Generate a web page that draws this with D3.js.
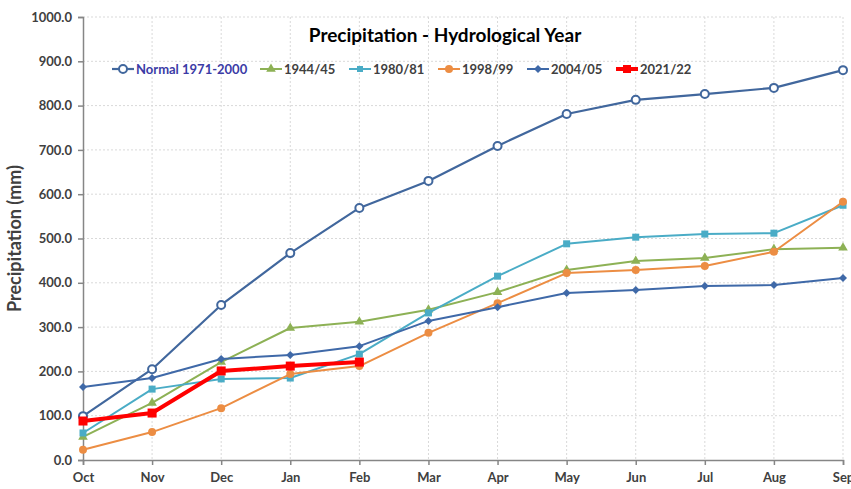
<!DOCTYPE html>
<html>
<head>
<meta charset="utf-8">
<script src="https://cdn.jsdelivr.net/npm/d3@7"></script>
<style>
  body { margin: 0; background: #fff; }
  text { font-family: Lato, "Open Sans", sans-serif; }
</style>
</head>
<body>
<div id="canvas"></div>
<script>
"use strict"

/* Data */
let months = ["Oct", "Nov", "Dec", "Jan", "Feb", "Mar", "Apr", "May", "Jun", "Jul", "Aug", "Sep"];
let yTicks = [0, 100, 200, 300, 400, 500, 600, 700, 800, 900, 1000];

let normal = [99, 205, 350, 467, 569, 630, 709, 781, 813, 826, 840, 880];
let y1944 = [52, 129, 221, 298, 312, 339, 379, 429, 449, 456, 476, 479];
let y1980 = [61, 160, 183, 185, 239, 332, 415, 488, 503, 510, 512, 575];
let y1998 = [23, 63, 117, 194, 212, 287, 354, 422, 429, 438, 470, 583];
let y2004 = [165, 185, 228, 237, 257, 314, 345, 377, 384, 393, 395, 411];
let y2021 = [88, 106, 201, 212, 221];

let seriesNames = ["Normal 1971-2000", "1944/45", "1980/81", "1998/99", "2004/05", "2021/22"];

let series = [
    { name: seriesNames[0], values: normal, color: "#41679d", marker: "openCircle", width: 2.2, textColor: "#3b3ba6" },
    { name: seriesNames[1], values: y1944, color: "#8db155", marker: "triangle", width: 2, textColor: "#404040" },
    { name: seriesNames[2], values: y1980, color: "#4aacc6", marker: "square", width: 2, textColor: "#404040" },
    { name: seriesNames[3], values: y1998, color: "#ec8d43", marker: "circle", width: 2, textColor: "#404040" },
    { name: seriesNames[4], values: y2004, color: "#3f69a8", marker: "diamond", width: 2, textColor: "#404040" },
    { name: seriesNames[5], values: y2021, color: "#ff0000", marker: "square", width: 4, textColor: "#404040" }
];

/* Drawing config */
let svgWidth = 851;
let svgHeight = 489;
let plotLeft = 83, plotRight = 843, plotTop = 17, plotBottom = 460;

let svg = d3.select("#canvas")
    .append("svg")
    .attr("width", svgWidth)
    .attr("height", svgHeight);

let x = d3.scalePoint()
    .domain(months)
    .range([plotLeft, plotRight]);

let y = d3.scaleLinear()
    .domain([0, 1000])
    .range([plotBottom, plotTop]);

/* gridlines */
svg.append("g")
    .selectAll("line")
    .data(yTicks.slice(1))
    .join("line")
    .attr("x1", plotLeft)
    .attr("x2", plotRight)
    .attr("y1", d => y(d))
    .attr("y2", d => y(d))
    .attr("stroke", "#d9d9d9")
    .attr("stroke-dasharray", "2,2");

svg.append("g")
    .selectAll("line")
    .data(months.slice(1))
    .join("line")
    .attr("x1", d => x(d))
    .attr("x2", d => x(d))
    .attr("y1", plotTop)
    .attr("y2", plotBottom)
    .attr("stroke", "#d9d9d9")
    .attr("stroke-dasharray", "2,2");

/* axes */
let yAxis = svg.append("g")
    .attr("transform", `translate(${plotLeft},0)`)
    .call(d3.axisLeft(y).tickValues(yTicks).tickFormat(d3.format(".1f")).tickSize(5).tickPadding(6));

let xAxis = svg.append("g")
    .attr("transform", `translate(0,${plotBottom})`)
    .call(d3.axisBottom(x).tickSize(5).tickPadding(8));

[yAxis, xAxis].forEach(function (a) {
    a.select(".domain").attr("stroke", "#868686").attr("stroke-width", 1.5);
    a.selectAll(".tick line").attr("stroke", "#868686").attr("stroke-width", 1.5);
    a.selectAll("text")
        .attr("fill", "#404040")
        .style("font-size", "13px")
        .style("font-weight", "bold")
        .style("font-family", "Lato, sans-serif");
});

/* lines */
let line = d3.line()
    .x((d, i) => x(months[i]))
    .y(d => y(d));

function drawMarker(g, type, color, size) {
    if (type === "openCircle") {
        g.append("circle").attr("r", 4).attr("fill", "#fff").attr("stroke", color).attr("stroke-width", 2);
    } else if (type === "circle") {
        g.append("circle").attr("r", 4).attr("fill", color);
    } else if (type === "square") {
        g.append("rect").attr("x", -size).attr("y", -size).attr("width", size * 2).attr("height", size * 2).attr("fill", color);
    } else if (type === "triangle") {
        g.append("path").attr("d", d3.symbol(d3.symbolTriangle, 40)()).attr("fill", color);
    } else if (type === "diamond") {
        g.append("path").attr("d", "M0,-4L4,0L0,4L-4,0Z").attr("fill", color);
    }
}

series.forEach(function (s) {
    svg.append("path")
        .datum(s.values)
        .attr("fill", "none")
        .attr("stroke", s.color)
        .attr("stroke-width", s.width)
        .attr("stroke-linejoin", "round")
        .attr("d", line);

    s.values.forEach(function (v, i) {
        let g = svg.append("g").attr("transform", `translate(${x(months[i])},${y(v)})`);
        drawMarker(g, s.marker, s.color, s.name === "2021/22" ? 4.5 : 3.5);
    });
});

/* title */
svg.append("text")
    .attr("x", 445)
    .attr("y", 42)
    .attr("text-anchor", "middle")
    .style("font-size", "19px")
    .style("font-weight", "bold")
    .attr("fill", "#000")
    .text("Precipitation - Hydrological Year");

/* y axis label */
svg.append("text")
    .attr("transform", `translate(21,${(plotTop + plotBottom) / 2}) rotate(-90)`)
    .attr("text-anchor", "middle")
    .style("font-size", "18px")
    .style("font-weight", "bold")
    .attr("fill", "#404040")
    .text("Precipitation (mm)");

/* legend */
let legendX = [112, 260, 349, 438, 527, 616];
series.forEach(function (s, i) {
    let g = svg.append("g").attr("transform", `translate(${legendX[i]},69)`);
    g.append("line")
        .attr("x1", 0).attr("x2", 22)
        .attr("stroke", s.color)
        .attr("stroke-width", s.width);
    let m = g.append("g").attr("transform", "translate(11,0)");
    drawMarker(m, s.marker, s.color, s.name === "2021/22" ? 4 : 3);
    g.append("text")
        .attr("x", 24)
        .attr("y", 5)
        .style("font-size", "13px")
        .style("font-weight", "bold")
        .attr("fill", s.textColor)
        .text(s.name);
});
</script>
</body>
</html>
